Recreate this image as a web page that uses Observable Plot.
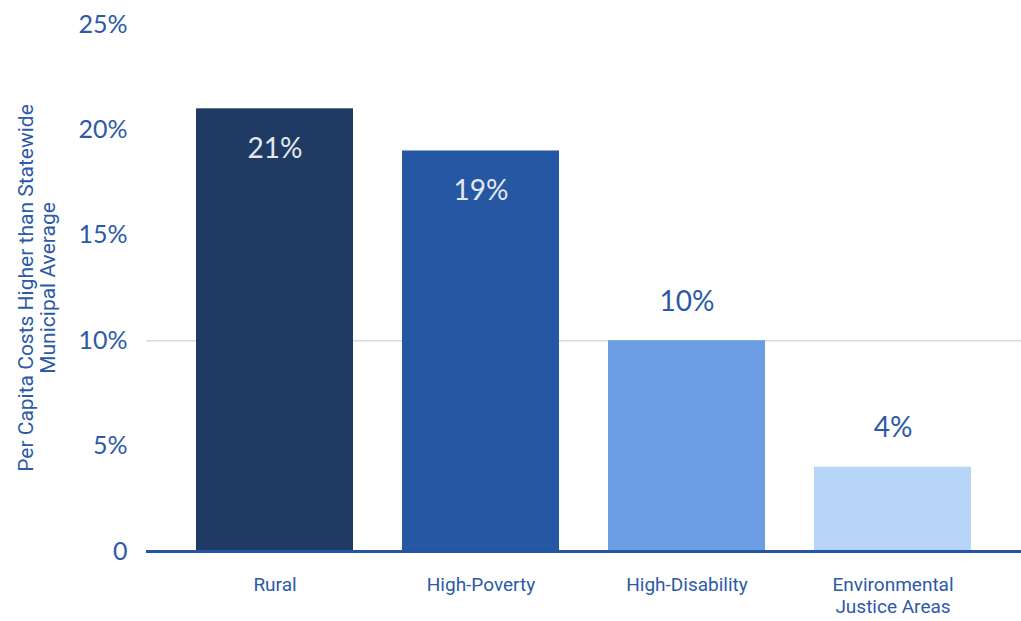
<!DOCTYPE html>
<html>
<head>
<meta charset="utf-8">
<script src="https://cdn.jsdelivr.net/npm/d3@7"></script>
<script src="https://cdn.jsdelivr.net/npm/@observablehq/plot@0.6"></script>
<style>
  html, body { margin: 0; padding: 0; background: #fff; }
  #chart svg { display: block; }
</style>
</head>
<body>
<div id="chart"></div>
<script>
const categories = ["Rural", "High-Poverty", "High-Disability", "Environmental\nJustice Areas"];
const values = [21, 19, 10, 4];
const barColors = ["#1f3b63", "#2657a3", "#6b9de2", "#b6d4f6"];
const labelInside = [true, true, false, false];
const yTicks = [0, 5, 10, 15, 20, 25];
const gridAt = [10];
const yTitle = "Per Capita Costs Higher than Statewide\nMunicipal Average";

const data = categories.map((c, i) => ({cat: c, v: values[i], color: barColors[i], inside: labelInside[i]}));
const blue = "#2c5aa7";
const catFont = "Roboto, sans-serif";

const chart = Plot.plot({
  width: 1021,
  height: 621,
  marginLeft: 146,
  marginRight: 0,
  marginTop: 24,
  marginBottom: 70,
  style: {fontFamily: "Lato, sans-serif", color: blue, background: "#fff"},
  x: {domain: categories, padding: 0.24, label: null},
  y: {domain: [0, 25], label: null},
  marks: [
    Plot.ruleY(gridAt, {stroke: "#d9d9d9", strokeWidth: 1.5}),
    Plot.barY(data, {x: "cat", y: "v", fill: "color"}),
    Plot.ruleY([0], {stroke: "#2455a4", strokeWidth: 3}),
    Plot.axisY({ticks: yTicks, tickSize: 0, tickPadding: 19, fontSize: 25, fill: blue,
      tickFormat: d => d === 0 ? "0" : d + "%"}),
    Plot.axisX({tickSize: 0, tickPadding: 24, fontSize: 19, fill: blue, lineAnchor: "top",
      lineHeight: 1.15, fontFamily: catFont}),
    Plot.text(data.filter(d => d.inside), {x: "cat", y: "v", text: d => d.v + "%", dy: 40,
      fill: "#e2e8f0", fontSize: 28, fontFamily: "Lato, sans-serif"}),
    Plot.text(data.filter(d => !d.inside), {x: "cat", y: "v", text: d => d.v + "%", dy: -39,
      fill: blue, fontSize: 28, fontFamily: "Lato, sans-serif"}),
    Plot.text([yTitle], {frameAnchor: "left", dx: -110, rotate: -90, text: d => d,
      textAnchor: "middle", fill: blue, fontSize: 21, fontFamily: catFont,
      lineHeight: 1.05, lineAnchor: "middle"})
  ]
});
document.getElementById("chart").appendChild(chart);
</script>
</body>
</html>
